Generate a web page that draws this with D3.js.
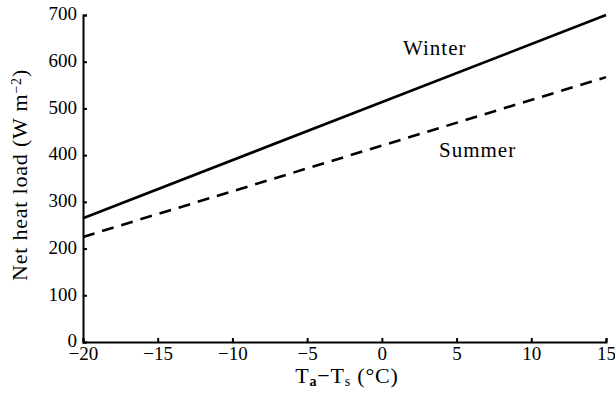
<!DOCTYPE html>
<html>
<head>
<meta charset="utf-8">
<script src="https://cdn.jsdelivr.net/npm/d3@7"></script>
<style>
  body { margin: 0; background: #fff; }
  svg { display: block; font-family: "Liberation Serif", "DejaVu Serif", serif; }
</style>
</head>
<body>
<svg id="chart"></svg>
<script>
// base settings
const width = 615;
const height = 405;
const margin = { top: 15, right: 9, bottom: 63, left: 83 };

// data (temperature difference vs net heat load)
const tempDiff = [-20, 15];
const winterLoad = [265, 700];
const summerLoad = [225, 567];
const xTicks = [-20, -15, -10, -5, 0, 5, 10, 15];
const yTicks = [0, 100, 200, 300, 400, 500, 600, 700];

const svg = d3.select('#chart')
    .attr('width', width).attr('height', height);

const x = d3.scaleLinear()
    .domain([-20, 15])
    .range([margin.left, width - margin.right]);
const y = d3.scaleLinear()
    .domain([0, 700])
    .range([height - margin.bottom, margin.top]);

// axes, ticks pointing into the plot
const xAxis = svg.append('g')
    .attr('transform', `translate(0,${y(0)})`)
    .call(d3.axisBottom(x).tickValues(xTicks).tickSize(-4).tickPadding(5)
        .tickFormat(d => d < 0 ? '\u2212' + Math.abs(d) : d));
const yAxis = svg.append('g')
    .attr('transform', `translate(${x(-20)},0)`)
    .call(d3.axisLeft(y).tickValues(yTicks).tickSize(-4).tickPadding(6));

[xAxis, yAxis].forEach(g => {
    g.select('.domain').attr('stroke', '#000').attr('stroke-width', 2);
    g.selectAll('.tick line').attr('stroke', '#000').attr('stroke-width', 2);
    g.selectAll('.tick text')
        .attr('fill', '#000')
        .style('font-family', '"Liberation Serif", serif')
        .style('font-size', '19px');
});
yAxis.selectAll('.tick text').attr('dy', '0.25em');

// lines
const line = d3.line()
    .x((d, i) => x(tempDiff[i]))
    .y(d => y(d));

svg.append('path')
    .datum(winterLoad)
    .attr('d', line)
    .attr('fill', 'none')
    .attr('stroke', '#000')
    .attr('stroke-width', 2.6);

svg.append('path')
    .datum(summerLoad)
    .attr('d', line)
    .attr('fill', 'none')
    .attr('stroke', '#000')
    .attr('stroke-width', 2.6)
    .attr('stroke-dasharray', '12,8');

// series labels
svg.append('text')
    .attr('x', 403).attr('y', 55)
    .style('font-size', '21px')
    .style('letter-spacing', '1px')
    .text('Winter');
svg.append('text')
    .attr('x', 439).attr('y', 157)
    .style('font-size', '21px')
    .style('letter-spacing', '1px')
    .text('Summer');

// axis titles
const xTitle = svg.append('text')
    .attr('x', 347).attr('y', 383)
    .attr('text-anchor', 'middle')
    .style('font-size', '22px')
    .style('letter-spacing', '0.8px');
xTitle.append('tspan').text('T');
xTitle.append('tspan').attr('baseline-shift', '-20%').style('font-size', '14px').style('font-weight', 'bold').text('a');
xTitle.append('tspan').text('\u2212T');
xTitle.append('tspan').attr('baseline-shift', '-20%').style('font-size', '14px').text('s');
xTitle.append('tspan').text(' (°C)');

const yTitle = svg.append('text')
    .attr('transform', 'translate(27,175) rotate(-90)')
    .attr('text-anchor', 'middle')
    .style('font-size', '22px')
    .style('letter-spacing', '0.8px');
yTitle.append('tspan').text('Net heat load (W m');
yTitle.append('tspan').attr('baseline-shift', '45%').style('font-size', '14px').text('\u22122');
yTitle.append('tspan').text(')');
</script>
</body>
</html>
